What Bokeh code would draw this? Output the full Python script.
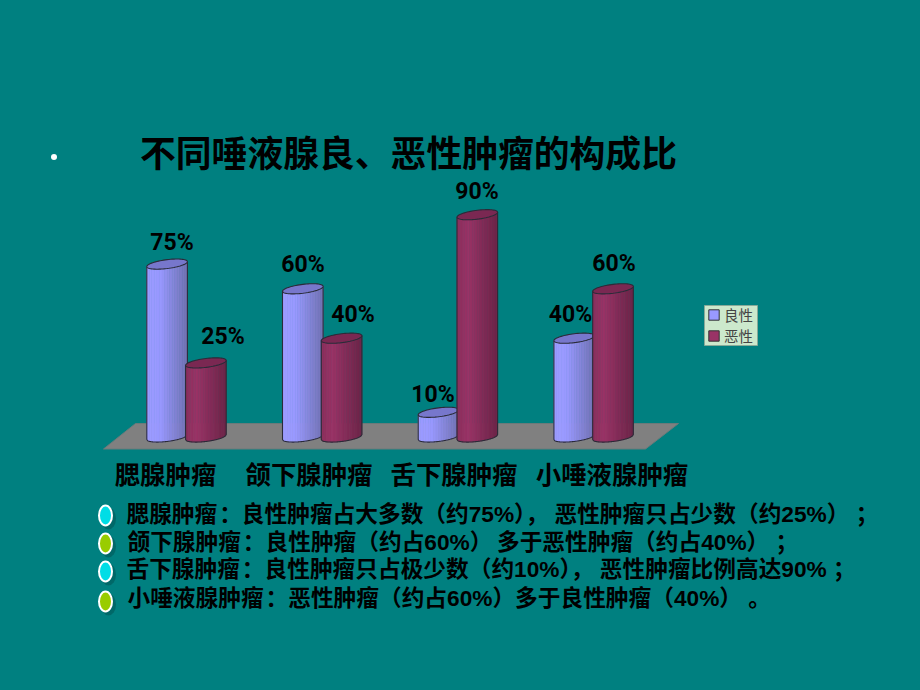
import math
from bokeh.plotting import figure
from bokeh.models import Range1d, Legend, LegendItem
from bokeh.core.properties import value
from bokeh.embed import file_html
from bokeh.resources import INLINE

categories = ["腮腺肿瘤", "颌下腺肿瘤", "舌下腺肿瘤", "小唾液腺肿瘤"]
benign_values = [70, 60, 10, 40]
malignant_values = [30, 40, 90, 60]
benign_labels = ["75%", "60%", "10%", "40%"]
malignant_labels = ["25%", "40%", "90%", "60%"]
series_names = ["良性", "恶性"]
title_text = "不同唾液腺良、恶性肿瘤的构成比"
note_lines = [
    "腮腺肿瘤\u200a：良性肿瘤占大多数（约75%），  恶性肿瘤只占少数（约25%） ；",
    "颌下腺肿瘤\u200a：良性肿瘤（约占60%）\u2009多于恶性肿瘤（约占40%） ；",
    "舌下腺肿瘤\u200a：良性肿瘤只占极少数（约10%），  恶性肿瘤比例高达90% ；",
    "小唾液腺肿瘤\u200a：恶性肿瘤（约占60%）多于良性肿瘤（40%） 。",
]

W, H = 904, 674
BG = "#008080"
CJK = value("Noto Sans CJK SC")
MIXED = value("'Liberation Sans', 'Noto Sans CJK SC'")
PX_X = 135.7
PX_Y = 2.47
X0 = 186.0
Y0 = 436.5


def fx(px):
    return (px - X0) / PX_X


def fy(py):
    return (Y0 - py) / PX_Y


p = figure(width=W, height=H, output_backend="svg", toolbar_location=None,
           x_range=Range1d(fx(0), fx(W)), y_range=Range1d(fy(H), fy(0)),
           min_border=0, background_fill_color=BG, border_fill_color=BG,
           outline_line_color=None)
p.axis.visible = False
p.grid.visible = False

# floor
p.patch([fx(103), fx(135), fx(678), fx(645)], [fy(448.5), fy(423), fy(423), fy(448.5)],
        fill_color="#808080", line_color="#6a7a7a", line_width=1)

HALF = 20.3 / PX_X
OFF = 19.4 / PX_X
B = 1.8
K = 1.0
BENIGN_STOPS = [(-1, "#9C9CFF"), (-0.35, "#9999FF"), (1, "#7272B4")]
MALIGN_STOPS = [(-1, "#8A2E5C"), (-0.45, "#993366"), (1, "#6C2448")]
BENIGN_CAP = "#7777CC"
MALIGN_CAP = "#7A2852"
EDGE = "#2b2b38"


def mix(stops, u):
    for (u0, c0), (u1, c1) in zip(stops, stops[1:]):
        if u <= u1:
            f = (u - u0) / (u1 - u0)
            ch = [round(int(c0[i:i + 2], 16) * (1 - f) + int(c1[i:i + 2], 16) * f) for i in (1, 3, 5)]
            return "#%02x%02x%02x" % tuple(ch)
    return stops[-1][1]


def low(u):
    return -B * math.sqrt(max(0.0, 1 - u * u)) + K * u


def cylinder(xc, val, stops, cap):
    n = 16
    us = [-1 + 2 * i / n for i in range(n + 1)]
    for a, b in zip(us, us[1:]):
        m = 5
        seg = [a + (b - a) * j / m for j in range(m + 1)]
        xs = [xc + HALF * u for u in seg] + [xc + HALF * u for u in reversed(seg)]
        ys = [val + low(u) for u in seg] + [low(u) for u in reversed(seg)]
        col = mix(stops, (a + b) / 2)
        p.patch(xs, ys, fill_color=col, line_color=col, line_width=0.6)
    seg = [-1 + 2 * i / 60 for i in range(61)]
    xs = [xc + HALF * u for u in seg]
    p.line([xs[0]] + xs + [xs[-1]], [val + low(-1)] + [low(u) for u in seg] + [val + low(1)],
           line_color=EDGE, line_width=1.1)
    th = [2 * math.pi * i / 72 for i in range(73)]
    p.patch([xc + HALF * math.cos(t) for t in th],
            [val + B * math.sin(t) + K * math.cos(t) for t in th],
            fill_color=cap, line_color=EDGE, line_width=1.1)


for i in range(len(categories)):
    cylinder(i - OFF, benign_values[i], BENIGN_STOPS, BENIGN_CAP)
    cylinder(i + OFF, malignant_values[i], MALIGN_STOPS, MALIGN_CAP)

# data labels
benign_pos = [(171.5, 242), (302.5, 264), (432.5, 394), (570, 314)]
malign_pos = [(222.5, 336), (352.5, 314), (476.5, 191), (613.5, 263)]
LABEL_FONT = value("Roboto")
for labels, pos in ((benign_labels, benign_pos), (malignant_labels, malign_pos)):
    p.text([fx(a) for a, _ in pos], [fy(b) for _, b in pos], text=labels, text_font=LABEL_FONT,
           text_font_style="bold", text_font_size="23px", text_color="#000000",
           text_align="center", text_baseline="middle")

# category labels
cat_pos = [165, 308.5, 453.5, 611.5]
p.text([fx(a) for a in cat_pos], [fy(472)] * 4, text=categories, text_font=CJK,
       text_font_style="bold", text_font_size="25.4px", text_color="#000000",
       text_align="center", text_baseline="middle")

# title and stray bullet
p.text([fx(139.5)], [fy(150)], text=[title_text], text_font=CJK, text_font_style="bold",
       text_font_size="35.8px", text_color="#000000", text_align="left", text_baseline="middle")
p.ellipse([fx(53.5)], [fy(156.5)], width=6, height=6, width_units="screen", height_units="screen",
          fill_color="#FFFFFF", line_color=None)

# note lines with bullets
note_y = [513.5, 541.5, 568.5, 597.5]
note_x = [126, 127, 126, 127]
bullet_y = [515, 543, 571, 601]
bullet_col = ["#00DDE6", "#99CC00", "#00DDE6", "#99CC00"]
for yy, col in zip(bullet_y, bullet_col):
    p.ellipse([fx(108)], [fy(yy + 3)], width=15, height=22, width_units="screen", height_units="screen",
              fill_color="#006868", line_color=None)
    p.ellipse([fx(105)], [fy(yy)], width=13, height=20, width_units="screen", height_units="screen",
              fill_color=col, line_color="#FFFFFF", line_width=2)
p.text([fx(a) for a in note_x], [fy(b) for b in note_y], text=note_lines, text_font=MIXED,
       text_font_style="bold", text_font_size="22.7px", text_color="#000000",
       text_align="left", text_baseline="middle")

# legend: box behind, swatches and names from a real legend
p.patch([fx(704), fx(757), fx(757), fx(704)], [fy(305), fy(305), fy(345), fy(345)],
        fill_color="#CCE8CC", line_color="#88AA99", line_width=1)
r1 = p.vbar(x=[float("nan")], top=[float("nan")], width=0.1, fill_color="#9999FF", line_color="#333333")
r2 = p.vbar(x=[float("nan")], top=[float("nan")], width=0.1, fill_color="#993366", line_color="#333333")
legend = Legend(items=[LegendItem(label=series_names[0], renderers=[r1]),
                       LegendItem(label=series_names[1], renderers=[r2])],
                location=(707, H - 346), orientation="vertical",
                background_fill_alpha=0.0, border_line_color=None,
                label_text_font="Noto Sans CJK SC", label_text_font_size="14.5px", label_text_color="#444444",
                glyph_width=13, glyph_height=13, label_standoff=4, spacing=0, padding=0, margin=0,
                label_height=16)
p.add_layout(legend, "center")

html = file_html(p, INLINE).replace("<head>", "<head><style>html,body{background:#008080;overflow:hidden}</style>", 1)
open("out.html", "w").write(html)
